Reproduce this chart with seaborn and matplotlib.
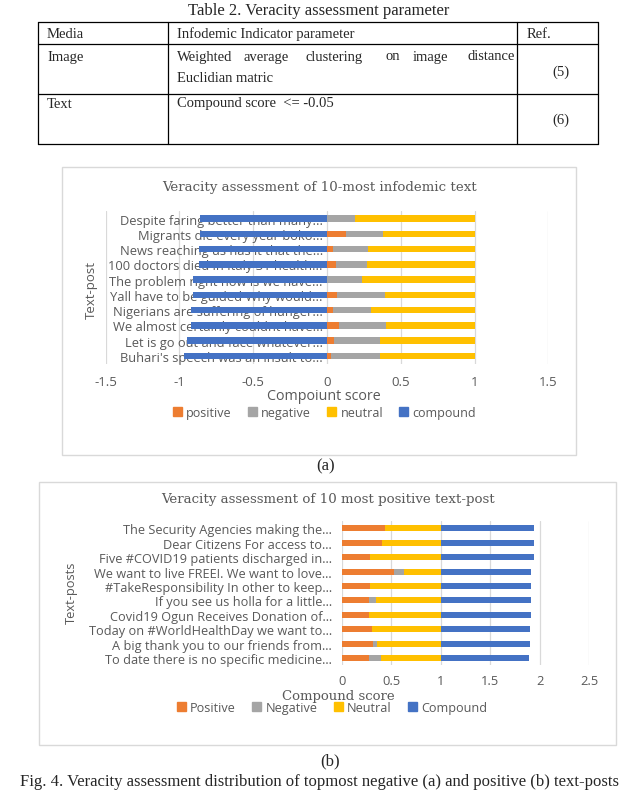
import numpy as np
import pandas as pd
import matplotlib
matplotlib.use("Agg")
import matplotlib.pyplot as plt
from matplotlib.patches import Rectangle, Patch
import seaborn as sns

sns.set_style("white")
plt.rcParams['font.family'] = ['Open Sans', 'DejaVu Sans']
plt.rcParams['axes.unicode_minus'] = False

# (a) 10 most infodemic text-posts
neg_posts = ["Despite faring better than many...", "Migrants die every year boko...",
             "News reaching us has it that the...", "100 doctors died in Italy 31 health...",
             "The problem right now is we have...", "Yall have to be guided Why would...",
             "Nigerians are suffering of hunger...", "We almost certainly couldnt have...",
             "Let is go out and face whatever...", "Buhari's speech was an insult to..."]
neg_positive = [0.00, 0.13, 0.04, 0.06, 0.00, 0.07, 0.04, 0.08, 0.05, 0.03]
neg_negative = [0.19, 0.25, 0.24, 0.21, 0.24, 0.32, 0.26, 0.32, 0.31, 0.33]
neg_neutral = [0.81, 0.62, 0.72, 0.73, 0.76, 0.61, 0.70, 0.60, 0.64, 0.64]
neg_compound = [-0.86, -0.86, -0.87, -0.87, -0.91, -0.91, -0.92, -0.92, -0.95, -0.97]

# (b) 10 most positive text-posts
pos_posts = ["The Security Agencies making the...", "Dear Citizens For access to...",
             "Five #COVID19 patients discharged in...", "We want to live FREE!. We want to love...",
             "#TakeResponsibility In other to keep...", "If you see us holla for a little...",
             "Covid19 Ogun Receives Donation of...", "Today on #WorldHealthDay we want to...",
             "A big thank you to our friends from...", "To date there is no specific medicine..."]
pos_positive = [0.44, 0.41, 0.29, 0.53, 0.29, 0.28, 0.28, 0.31, 0.32, 0.28]
pos_negative = [0.00, 0.00, 0.00, 0.10, 0.00, 0.07, 0.00, 0.00, 0.04, 0.12]
pos_neutral = [0.56, 0.59, 0.71, 0.37, 0.71, 0.65, 0.72, 0.69, 0.64, 0.60]
pos_compound = [0.94, 0.94, 0.94, 0.91, 0.91, 0.91, 0.91, 0.90, 0.90, 0.89]

ticks_a = [-1.5, -1, -0.5, 0, 0.5, 1, 1.5]
ticklabels_a = ["-1.5", "-1", "-0.5", "0", "0.5", "1", "1.5"]
ticks_b = [0, 0.5, 1, 1.5, 2, 2.5]
ticklabels_b = ["0", "0.5", "1", "1.5", "2", "2.5"]

ORANGE, GRAY, GOLD, BLUE = "#ED7D31", "#A5A5A5", "#FFC000", "#4472C4"
TXT = "#595959"
GRID = "#D9D9D9"
W, H = 628, 804


def axes_px(x0, y0, x1, y1):
    return fig.add_axes([x0 / W, 1 - y1 / H, (x1 - x0) / W, (y1 - y0) / H])


def stacked(ax, posts, pos, neg, neu, comp, width, compound_on_top):
    df = pd.DataFrame({"post": posts, "pos": pos, "neg": neg, "neu": neu, "comp": comp})
    df["pn"] = df["pos"] + df["neg"]
    df["pnn"] = df["pn"] + df["neu"]
    df["total"] = df["pnn"] + df["comp"]
    layers = []
    if compound_on_top:
        layers.append(("total", BLUE))
    layers += [("pnn", GOLD), ("pn", GRAY), ("pos", ORANGE)]
    if not compound_on_top:
        layers.append(("comp", BLUE))
    for col, c in layers:
        sns.barplot(data=df, x=col, y="post", color=c, saturation=1, width=width,
                    errorbar=None, linewidth=0, ax=ax)
    ax.set_ylim(len(posts) - 0.5, -0.5)
    ax.set_xlabel("")
    ax.set_ylabel("")
    ax.set_axisbelow(True)
    ax.grid(axis="x", color=GRID, linewidth=0.9)
    ax.grid(axis="y", visible=False)
    for s in ax.spines.values():
        s.set_visible(False)
    ax.set_facecolor("none")


fig = plt.figure(figsize=(W / 100, H / 100), dpi=100)

# overlay in pixel coordinates for table, frames and captions
ov = fig.add_axes([0, 0, 1, 1])
ov.set_xlim(0, W)
ov.set_ylim(H, 0)
ov.axis("off")
serif = ["Liberation Serif", "DejaVu Serif"]

ov.text(319, 11, "Table 2. Veracity assessment parameter", ha="center", va="center",
        family=serif, fontsize=12)
tl, tr, c1, c2 = 38, 598, 168, 517
rows = [23, 45, 95, 145]
for y in rows:
    ov.plot([tl, tr], [y, y], color="black", lw=0.9)
for x in [tl, c1, c2, tr]:
    ov.plot([x, x], [rows[0], rows[-1]], color="black", lw=0.9)
cell = dict(family=serif, fontsize=10.5, va="center")
ov.text(47, 34, "Media", **cell)
ov.text(177, 34, "Infodemic Indicator parameter", **cell)
ov.text(527, 34, "Ref.", **cell)
ov.text(47, 57, "Image", **cell)
words = ["Weighted", "average", "clustering", "on", "image", "distance"]
word_x = [177, 244, 305, 385, 413, 467]
for wd, wx in zip(words, word_x):
    ov.text(wx, 57, wd, **cell)
ov.text(177, 78, "Euclidian matric", **cell)
ov.text(561, 72, "(5)", ha="center", **cell)
ov.text(47, 104, "Text", **cell)
ov.text(177, 104, "Compound score  <= -0.05", **cell)
ov.text(561, 120, "(6)", ha="center", **cell)

# chart frames
ov.add_patch(Rectangle((62, 168), 514, 288, fill=False, edgecolor=GRID, lw=1))
ov.add_patch(Rectangle((39, 483), 577, 263, fill=False, edgecolor=GRID, lw=1))

handles = [Patch(color=c) for c in [ORANGE, GRAY, GOLD, BLUE]]
leg_kw = dict(ncol=4, frameon=False, loc="center", bbox_transform=fig.transFigure,
              handlelength=0.7, handleheight=0.7, handletextpad=0.35, columnspacing=1.3,
              labelcolor=TXT)

# ---------- chart (a) ----------
ax_a = axes_px(105.7, 212, 548.3, 364.5)
stacked(ax_a, neg_posts, neg_positive, neg_negative, neg_neutral, neg_compound, 0.42, False)
ax_a.set_xlim(-1.5, 1.5)
ax_a.set_xticks(ticks_a)
ax_a.set_xticklabels(ticklabels_a)
ax_a.spines["left"].set_position(("data", 0))
ax_a.tick_params(axis="y", length=0, pad=3, labelsize=9.3, labelcolor=TXT)
ax_a.tick_params(axis="x", length=0, pad=8, labelsize=9.5, labelcolor=TXT)
ov.text(320, 187, "Veracity assessment of 10-most infodemic text", ha="center", va="center",
        family=["DejaVu Serif"], fontsize=9.6, color=TXT)
ov.text(91.7, 290, "Text-post", rotation=90, ha="center", va="center", fontsize=9.5, color=TXT)
ov.text(324, 397, "Compoiunt score", ha="center", va="center", fontsize=10.3, color=TXT)
leg_a = ov.legend(handles, ["positive", "negative", "neutral", "compound"],
                  bbox_to_anchor=(324.5 / W, 1 - 413.3 / H), prop={"size": 9.0}, **leg_kw)
ov.add_artist(leg_a)

# ---------- chart (b) ----------
ax_b = axes_px(341.7, 522.1, 589.3, 666.2)
stacked(ax_b, pos_posts, pos_positive, pos_negative, pos_neutral, pos_compound, 0.42, True)
ax_b.set_xlim(0, 2.5)
ax_b.set_xticks(ticks_b)
ax_b.set_xticklabels(ticklabels_b)
ax_b.tick_params(axis="y", length=0, pad=7, labelsize=9.2, labelcolor=TXT)
ax_b.tick_params(axis="x", length=0, pad=6, labelsize=9.3, labelcolor=TXT)
ov.text(328, 500, "Veracity assessment of 10 most positive text-post", ha="center",
        va="center", family=["DejaVu Serif"], fontsize=9.6, color=TXT)
ov.text(71.7, 593, "Text-posts", rotation=90, ha="center", va="center", fontsize=9.3, color=TXT)
ov.text(338, 696.7, "Compound score", ha="center", va="center", family=["DejaVu Serif"],
        fontsize=9.5, color=TXT)
ov.legend(handles, ["Positive", "Negative", "Neutral", "Compound"],
          bbox_to_anchor=(332 / W, 1 - 708.3 / H), prop={"size": 9.1}, **leg_kw)

# captions
ov.text(326, 466, "(a)", ha="center", va="center", family=serif, fontsize=12)
ov.text(330, 761, "(b)", ha="center", va="center", family=serif, fontsize=12)
ov.text(320, 782, "Fig. 4. Veracity assessment distribution of topmost negative (a) and "
        "positive (b) text-posts", ha="center", va="center", family=serif, fontsize=12)

fig.savefig("out.png", dpi=100)
